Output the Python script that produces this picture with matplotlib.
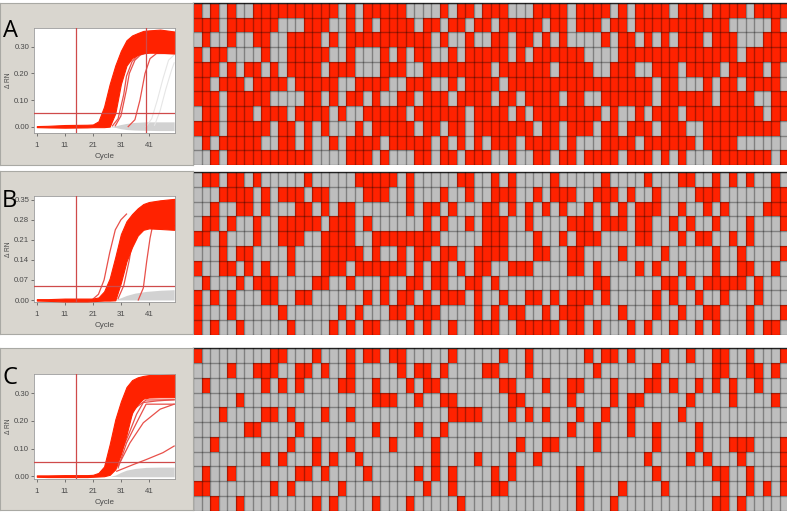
import numpy as np
import matplotlib
matplotlib.use("Agg")
import matplotlib.pyplot as plt
from matplotlib.colors import ListedColormap

W, H = 787, 513

# plate maps: A lists the grey wells per row, B and C list the red wells per row
A_GREY = [
    [1, 3, 5, 6, 17, 19, 25, 26, 27, 28, 30, 33, 37, 38, 39, 44, 49, 51, 56, 60, 65],
    [3, 10, 11, 12, 16, 17, 19, 21, 26, 29, 32, 35, 41, 44, 48, 51, 63, 64, 65, 66, 67, 69],
    [0, 2, 3, 5, 6, 9, 10, 15, 17, 28, 30, 31, 33, 34, 37, 40, 42, 44, 45, 46, 47, 49, 52, 54, 56, 60, 64, 65, 66],
    [1, 4, 5, 6, 7, 9, 10, 16, 17, 19, 20, 21, 23, 25, 28, 29, 31, 37, 39, 46, 47, 48, 49, 64],
    [3, 5, 8, 10, 15, 19, 20, 21, 25, 26, 35, 42, 47, 48, 52, 53, 57, 62, 67, 69],
    [2, 6, 11, 17, 18, 23, 24, 28, 29, 31, 36, 54, 57, 58, 59, 61, 64, 69],
    [3, 9, 10, 11, 12, 15, 17, 20, 22, 23, 26, 30, 35, 38, 43, 46, 47, 54, 61, 66, 67],
    [0, 3, 7, 11, 16, 18, 19, 25, 32, 37, 39, 48, 50, 51, 53, 57, 67],
    [3, 9, 12, 14, 16, 17, 18, 20, 26, 29, 32, 40, 43, 47, 50, 54, 58, 59, 69],
    [0, 2, 8, 9, 12, 14, 15, 17, 22, 28, 30, 32, 34, 38, 43, 45, 46, 47, 52, 59, 64, 65, 66, 67, 68, 69],
    [0, 1, 3, 14, 15, 16, 17, 21, 23, 24, 25, 28, 31, 35, 36, 38, 39, 42, 45, 50, 54, 56, 58, 59, 60, 68],
]
B_RED = [
    [1, 2, 4, 5, 7, 13, 19, 20, 21, 22, 23, 25, 31, 32, 35, 37, 42, 48, 53, 57, 58, 61, 63, 65, 68],
    [3, 4, 5, 6, 8, 10, 11, 12, 14, 15, 20, 21, 22, 25, 29, 32, 35, 36, 37, 40, 42, 43, 44, 47, 48, 49, 51, 54, 59, 60, 61, 68, 69],
    [2, 5, 6, 8, 12, 13, 15, 17, 18, 25, 27, 28, 30, 34, 35, 37, 39, 41, 43, 46, 48, 50, 52, 53, 54, 57, 60, 62, 67, 68, 69],
    [1, 2, 4, 7, 10, 11, 12, 13, 14, 16, 17, 18, 20, 27, 29, 32, 34, 35, 36, 39, 44, 45, 46, 48, 49, 50, 52, 53, 56, 58, 61, 65, 69],
    [0, 1, 3, 7, 10, 11, 12, 15, 16, 17, 18, 21, 22, 23, 24, 25, 26, 27, 28, 34, 35, 36, 40, 43, 45, 46, 47, 52, 53, 57, 59, 60, 63, 65],
    [3, 5, 6, 11, 15, 16, 17, 18, 19, 21, 24, 26, 27, 29, 30, 33, 34, 35, 36, 40, 41, 44, 45, 50, 55, 61, 64, 69],
    [0, 3, 4, 6, 8, 11, 15, 16, 17, 19, 20, 21, 22, 23, 24, 26, 28, 29, 31, 33, 34, 37, 38, 39, 44, 45, 47, 52, 54, 57, 61, 64, 65, 68],
    [1, 5, 7, 8, 9, 14, 15, 18, 22, 25, 26, 28, 29, 32, 33, 35, 47, 48, 55, 56, 58, 60, 61, 62, 63, 64, 66],
    [0, 2, 4, 8, 9, 12, 13, 20, 22, 24, 25, 27, 29, 30, 31, 33, 36, 39, 40, 42, 44, 45, 46, 48, 54, 56, 59, 62, 66],
    [0, 4, 10, 17, 19, 23, 24, 26, 27, 28, 33, 35, 37, 38, 41, 43, 44, 45, 50, 54, 57, 60, 61, 65, 69],
    [0, 2, 5, 11, 16, 18, 20, 21, 25, 27, 30, 33, 34, 35, 38, 39, 40, 41, 42, 44, 45, 47, 51, 53, 56, 59, 61, 65, 67, 68],
]
C_RED = [
    [0, 9, 10, 14, 18, 20, 21, 23, 24, 30, 36, 39, 46, 48, 49, 51, 55, 58, 61, 62, 65, 69],
    [4, 7, 8, 9, 12, 13, 15, 18, 24, 26, 27, 29, 34, 35, 39, 47, 54, 61, 62, 65, 66, 68],
    [1, 8, 10, 12, 17, 18, 21, 25, 27, 28, 36, 37, 41, 44, 45, 49, 53, 54, 56, 59, 61, 63, 66],
    [5, 21, 22, 23, 26, 29, 30, 37, 38, 44, 49, 51, 52, 58, 63, 68],
    [3, 8, 9, 11, 15, 18, 30, 31, 32, 33, 37, 39, 41, 45, 48, 51, 57],
    [6, 7, 12, 21, 26, 29, 44, 47, 51, 54, 59],
    [2, 11, 14, 18, 23, 28, 38, 41, 42, 47, 54, 59, 63, 64, 65, 69],
    [8, 10, 14, 16, 19, 28, 33, 37, 40, 53, 58, 60, 64, 69],
    [1, 4, 12, 13, 15, 20, 26, 28, 30, 35, 37, 45, 54, 61, 62, 65, 69],
    [0, 1, 9, 11, 17, 27, 30, 35, 36, 45, 50, 55, 62, 65, 67, 69],
    [2, 5, 14, 16, 21, 25, 31, 45, 49, 61, 62, 64],
]
N_COLS = 70

# edges of the amplification bands at these cycles
CYC = [1, 5, 11, 19, 21, 23, 25, 27, 29, 31, 33, 35, 37, 39, 41, 45, 50]
A_UP = [.002, .003, .006, .007, .008, .02, .075, .16, .23, .285, .325, .343, .352, .36, .362, .365, .358]
A_LO = [-.002, -.003, -.004, -.003, -.002, -.002, -.002, 0, .05, .16, .23, .258, .27, .277, .278, .278, .275]
B_UP = [.003, .003, .005, .005, .005, .009, .03, .075, .15, .23, .275, .30, .32, .335, .342, .348, .353]
B_LO = [-.002, -.003, -.005, -.005, -.004, -.003, -.002, -.002, -.001, .06, .135, .185, .225, .245, .25, .248, .245]
C_UP = [.003, .003, .004, .004, .005, .012, .035, .115, .205, .27, .322, .347, .357, .362, .365, .365, .366]
C_LO = [-.002, -.003, -.003, -.003, -.002, -.001, 0, .005, .025, .08, .15, .23, .26, .28, .284, .285, .285]

# single late curves (cycles, values)
A_CURVES = [
    ([28, 30, 32, 33, 35, 37, 40], [.003, .03, .12, .19, .245, .268, .278]),
    ([29, 31, 33, 34, 36, 38, 41], [.003, .04, .14, .2, .25, .27, .278]),
    ([33.6, 36, 37.8, 39.6, 41.4, 43.7, 50], [0, .026, .10, .2, .256, .275, .275]),
]
A_FAINT = [
    ([40, 42, 44, 46, 48, 50], [.0, .03, .1, .18, .25, .27]),
    ([43, 45, 47, 49, 50], [.005, .06, .14, .21, .24]),
]
B_CURVES = [
    ([21, 23, 25, 27, 29, 31, 33], [.003, .02, .07, .165, .245, .28, .30]),
    ([30, 32, 34, 35, 37, 40], [.005, .05, .14, .2, .245, .25]),
    ([37.2, 39, 40.2, 41.4, 42.5, 44, 50], [0, .042, .135, .216, .268, .27, .26]),
]
C_CURVES = [
    ([29.5, 35.4, 40, 46, 50], [.018, .042, .06, .085, .109]),
    ([30, 34.2, 39, 45, 50], [.036, .12, .193, .242, .26]),
    ([30, 33, 36.6, 40, 50], [.03, .12, .193, .26, .26]),
    ([30, 34, 36.6, 39, 44, 50], [.06, .157, .224, .266, .272, .276]),
    ([30.5, 33.5, 36, 40, 50], [.07, .19, .245, .275, .276]),
]

# grey no-amplification band
GREY_CYC = [27, 29, 31, 33, 36, 40, 45, 50]
A_GREY_UP = [0, .003, .008, .012, .016, .018, .018, .018]
A_GREY_LO = [0, -.003, -.008, -.011, -.013, -.014, -.015, -.015]
B_GREY_UP = [0, .002, .008, .016, .024, .03, .034, .036]
B_GREY_LO = [0, 0, 0, 0, 0, 0, 0, 0]
C_GREY_UP = [0, .004, .014, .022, .028, .032, .033, .033]
C_GREY_LO = [0, -.001, -.002, -.002, -.002, -.002, -.002, -.002]

A_YTICKS = [0, .1, .2, .3]
B_YTICKS = [0, .07, .14, .21, .28, .35]
C_YTICKS = [0, .1, .2, .3]
XTICKS = [1, 11, 21, 31, 41]

BEIGE = '#d9d6cf'
RED = '#ff2200'
GREY = '#bebebe'
LINE = '#cf4a4a'


def px_axes(x0, y0, x1, y1, **kw):
    return plt.gcf().add_axes([x0/W, 1-y1/H, (x1-x0)/W, (y1-y0)/H], **kw)


def plate(y0, y1, rows, red_listed):
    ax = px_axes(193.3, y0, 788.3, y1)
    m = np.zeros((len(rows), N_COLS)) if red_listed else np.ones((len(rows), N_COLS))
    for i, r in enumerate(rows):
        m[i, r] = 1 if red_listed else 0
    ax.pcolormesh(np.arange(N_COLS+1), np.arange(len(rows)+1), m,
                  cmap=ListedColormap([GREY, RED]), vmin=0, vmax=1)
    ax.set_ylim(len(rows), 0)
    ax.set_xlim(0, N_COLS)
    ax.set_xticks(range(N_COLS+1))
    ax.set_yticks(range(len(rows)+1))
    ax.tick_params(length=0, labelbottom=False, labelleft=False)
    ax.grid(True, color='black', alpha=0.32, lw=1.0)
    ax.set_axisbelow(False)
    for s in ['left', 'right', 'bottom']:
        ax.spines[s].set_visible(False)
    ax.spines['top'].set_color('#333333')
    ax.spines['top'].set_linewidth(1.0)


def curves(panel, box, ylim, yticks, up, lo, grey_up, grey_lo, lines, vlines, letter, lpos, faint=()):
    bg = px_axes(*panel, facecolor=BEIGE)
    bg.set_xticks([])
    bg.set_yticks([])
    for s in bg.spines.values():
        s.set_color('#a9a9a4')
        s.set_linewidth(0.8)

    ax = px_axes(*box, facecolor='white')
    ax.fill_between(GREY_CYC, grey_lo, grey_up, color='#d2d2d2', lw=0, zorder=1)
    for cx, cy in faint:
        ax.plot(cx, cy, color='#e6e6e6', lw=0.8, zorder=1)
    for cx, cy in lines:
        ax.plot(cx, cy, color='#e8504a', lw=0.9, zorder=2)
    ax.fill_between(CYC, lo, up, color=RED, lw=0.8, zorder=3)
    ax.axhline(0.05, color=LINE, lw=0.9, zorder=4)
    for v in vlines:
        ax.axvline(v, color=LINE, lw=0.9, zorder=4)
    ax.set_xlim(0, 50.3)
    ax.set_ylim(*ylim)
    ax.set_xticks(XTICKS)
    ax.set_yticks(yticks)
    ax.set_yticklabels(['%.2f' % t for t in yticks])
    ax.tick_params(labelsize=5.6, length=2, width=0.5, colors='#4a4a4a')
    ax.tick_params(axis='x', pad=4.5)
    ax.tick_params(axis='y', pad=1.5)
    for lab in ax.get_xticklabels() + ax.get_yticklabels():
        lab.set_family('Liberation Sans')
    for s in ax.spines.values():
        s.set_color('#9a9a9a')
        s.set_linewidth(0.6)
    ax.set_xlabel('Cycle', fontsize=5.8, color='#4a4a4a', family='Liberation Sans', labelpad=2.5)
    ax.set_ylabel('Δ RN', fontsize=4.8, color='#4a4a4a', family='Liberation Sans', labelpad=1.5)
    plt.gcf().text(lpos[0]/W, 1-lpos[1]/H, letter, fontsize=17, family='Open Sans',
                   color='black', ha='left', va='baseline')


fig = plt.figure(figsize=(W/100, H/100), dpi=100, facecolor='white')

plate(3, 165, A_GREY, False)
plate(172, 334.7, B_RED, True)
plate(348.3, 510.7, C_RED, True)

curves((0, 2.7, 192.7, 165), (34, 28, 175, 133), (-.024, .371), A_YTICKS, A_UP, A_LO,
       A_GREY_UP, A_GREY_LO, A_CURVES, [15, 40], 'A', (3, 37), A_FAINT)
curves((0, 171, 192.7, 334), (34, 196.3, 175, 302.3), (-.008, .362), B_YTICKS, B_UP, B_LO,
       B_GREY_UP, B_GREY_LO, B_CURVES, [15], 'B', (2, 207))
curves((0, 348, 192.7, 510), (34, 373.7, 175, 479), (-.01, .37), C_YTICKS, C_UP, C_LO,
       C_GREY_UP, C_GREY_LO, C_CURVES, [15], 'C', (3, 384))

fig.savefig('out.png', dpi=100)
